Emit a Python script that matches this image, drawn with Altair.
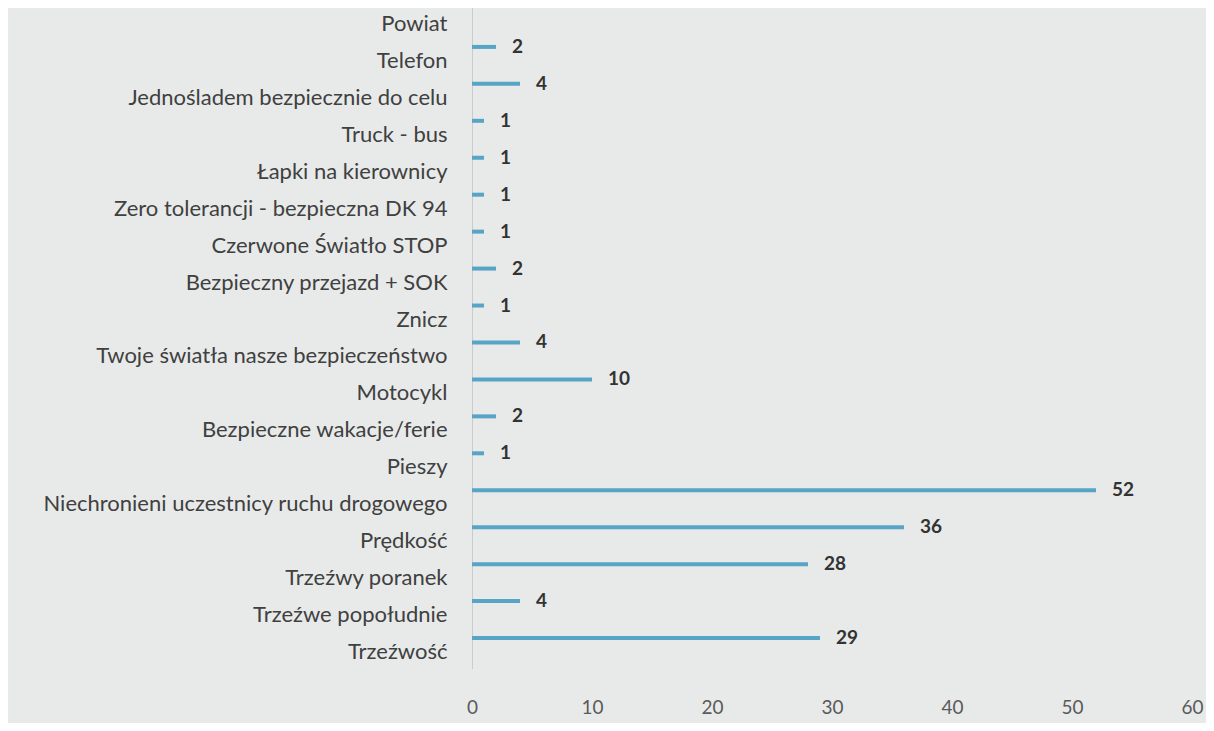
import altair as alt
import pandas as pd

categories = [
    "Powiat",
    "Telefon",
    "Jednośladem bezpiecznie do celu",
    "Truck - bus",
    "Łapki na kierownicy",
    "Zero tolerancji - bezpieczna DK 94",
    "Czerwone Światło STOP",
    "Bezpieczny przejazd + SOK",
    "Znicz",
    "Twoje światła nasze bezpieczeństwo",
    "Motocykl",
    "Bezpieczne wakacje/ferie",
    "Pieszy",
    "Niechronieni uczestnicy ruchu drogowego",
    "Prędkość",
    "Trzeźwy poranek",
    "Trzeźwe popołudnie",
    "Trzeźwość",
]
values = [None, 2, 4, 1, 1, 1, 1, 2, 1, 4, 10, 2, 1, 52, 36, 28, 4, 29]
x_ticks = [0, 10, 20, 30, 40, 50, 60]

df = pd.DataFrame({"akcja": categories, "liczba": values})

FONT = "Lato"

y_enc = alt.Y(
    "akcja:N",
    sort=categories,
    scale=alt.Scale(domain=categories, range=[-4.5, 660.5], paddingInner=0, paddingOuter=0),
    axis=alt.Axis(
        title=None,
        ticks=False,
        domain=True,
        domainColor="#c9cccc",
        domainWidth=1,
        labelFont=FONT,
        labelFontSize=22,
        labelColor="#404040",
        labelPadding=25,
        labelOffset=2,
        labelLimit=0,
    ),
)
x_enc = alt.X(
    "liczba:Q",
    scale=alt.Scale(domain=[0, 60], nice=False),
    axis=alt.Axis(
        title=None,
        values=x_ticks,
        ticks=False,
        domain=False,
        grid=False,
        labelFlush=False,
        labelFont=FONT,
        labelFontSize=19,
        labelColor="#5a5a5a",
        labelPadding=30,
    ),
)

bars = alt.Chart(df).mark_bar(size=4, yOffset=-12, color="#58a4c4").encode(
    x=x_enc, y=y_enc
)

labels = alt.Chart(df).mark_text(
    align="left",
    baseline="middle",
    dx=16,
    yOffset=-12,
    font=FONT,
    fontSize=19,
    fontWeight="bold",
    color="#333333",
).encode(x=x_enc, y=y_enc, text=alt.Text("liczba:Q"))

chart = (
    alt.layer(bars, labels)
    .properties(
        width=720,
        height=660,
        autosize=alt.AutoSizeParams(type="none"),
        padding={"left": 464, "top": 0, "right": 14, "bottom": 55},
        background="#e8eaea",
    )
    .configure_view(stroke=None)
)

chart.save("out.html", embed_options={"renderer": "svg", "actions": False})
